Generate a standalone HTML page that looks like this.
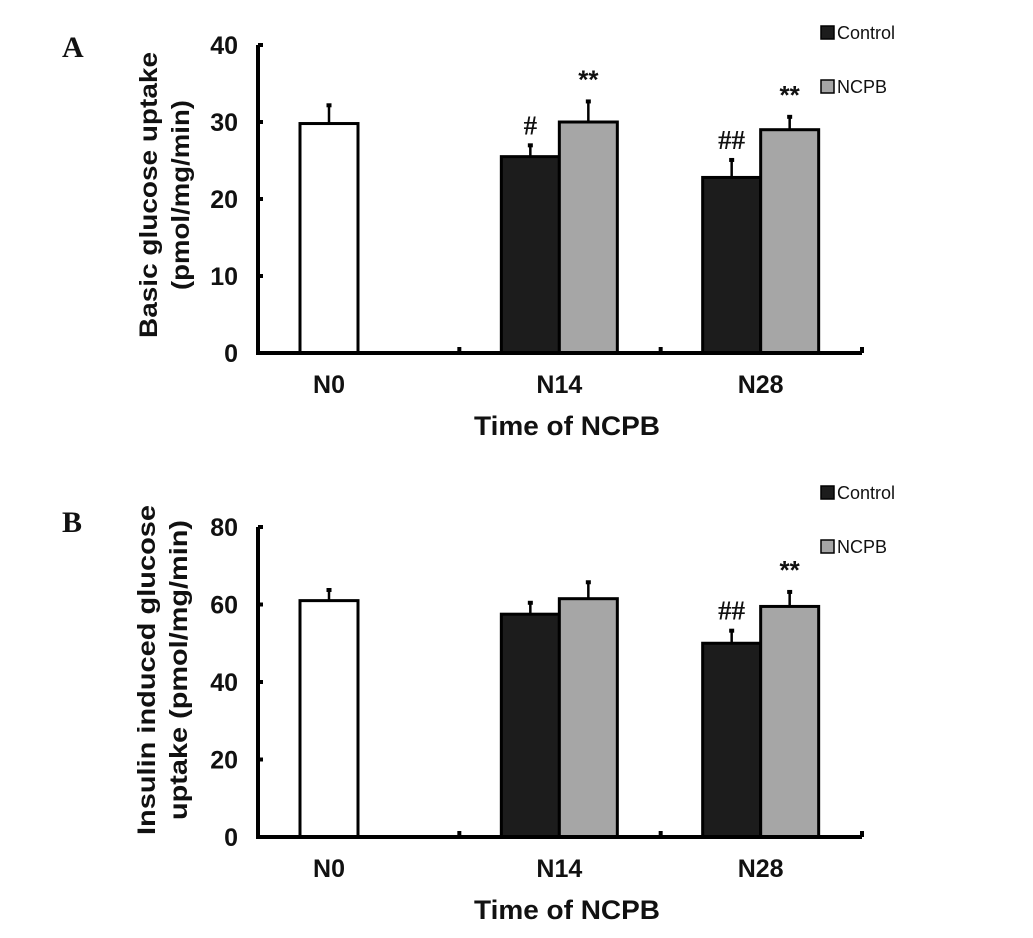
<!DOCTYPE html>
<html><head><meta charset="utf-8"><style>
body{margin:0;background:#fff;}
svg text{font-family:"Liberation Sans",sans-serif;font-weight:bold;fill:#111;}
</style></head><body>
<svg id="chart" width="1033" height="933" viewBox="0 0 1033 933" xmlns="http://www.w3.org/2000/svg"></svg>
<script>
const categories = ["N0","N14","N28"];
const aControl = [29.8, 25.5, 22.8];
const aControlErr = [2.5, 1.6, 2.4];
const aNcpb = [null, 30.0, 29.0];
const aNcpbErr = [null, 2.8, 1.8];
const aMarks = [["",""],["#","**"],["##","**"]];
const aTicks = [0,10,20,30,40];
const bControl = [61, 57.5, 50];
const bControlErr = [3, 3.2, 3.5];
const bNcpb = [null, 61.5, 59.5];
const bNcpbErr = [null, 4.5, 4];
const bMarks = [["",""],["",""],["##","**"]];
const bTicks = [0,20,40,60,80];

const svg = document.getElementById('chart');
const NS = 'http://www.w3.org/2000/svg';
function mk(tag, attrs, text){
  const e = document.createElementNS(NS, tag);
  for (const k in attrs) e.setAttribute(k, attrs[k]);
  if (text !== undefined) e.textContent = text;
  svg.appendChild(e);
  return e;
}
function panel(p){
  const x0=258, x1=862, catW=(x1-x0)/3;
  const ymax=p.ticks[p.ticks.length-1];
  const y = v => p.y0 - (v/ymax)*(p.y0-p.yTop);
  let e;
  e = mk('text',{x:62,y:p.letterY,'font-size':30,style:'font-family:"Liberation Serif",serif;font-weight:bold'},p.letter);
  
  
  const cy=p.titleCy;
  p.ytitle.forEach((t,i)=>{
    e = mk('text',{x:p.ytX[i],y:cy,'font-size':25,'text-anchor':'middle',textLength:p.ytLen[i],lengthAdjust:'spacingAndGlyphs',transform:`rotate(-90 ${p.ytX[i]} ${cy})`},t);
    
    
  });
  p.ticks.forEach(t=>{
    e = mk('text',{x:238,y:y(t)+9,'font-size':25,'text-anchor':'end'},String(t));
    
    
    e = mk('line',{x1:x0,x2:x0+5,y1:y(t),y2:y(t),stroke:'#000','stroke-width':4});
    
    
  });
  categories.forEach((c,i)=>{
    const base=x0+catW*i;
    const bars=[[p.control[i],p.cErr[i],i===0?'#fff':'#1c1c1c',base+42]];
    if(p.ncpb[i]!==null) bars.push([p.ncpb[i],p.nErr[i],'#a6a6a6',base+42+58]);
    bars.forEach((b,j)=>{
      const bx=b[3], w=58, top=y(b[0]);
      e = mk('line',{x1:bx+w/2,x2:bx+w/2,y1:top,y2:y(b[0]+b[1]),stroke:'#000','stroke-width':2.5});
      
      
      e = mk('rect',{x:bx+w/2-2.5,y:y(b[0]+b[1])-1,width:5,height:4,fill:'#000'});
      
      
      e = mk('rect',{x:bx,y:top,width:w,height:p.y0-top,fill:b[2],stroke:'#000','stroke-width':3});
      
      
      const m=p.marks[i][j];
      if(m){
        const star=m[0]==='*';
        e = mk('text',{x:bx+w/2,y:y(b[0]+b[1])-(star?12:10),'font-size':star?26:27,'text-anchor':'middle',style:star?'':'font-family:"Liberation Serif",serif;font-weight:bold'},m);
        
        
      }
    });
    e = mk('text',{x:base+(i===0?71:100),y:p.y0+40,'font-size':25,'text-anchor':'middle'},c);
    
    
    e = mk('line',{x1:base+catW,x2:base+catW,y1:p.y0,y2:p.y0-6,stroke:'#000','stroke-width':4});
    
    
  });
  e = mk('path',{d:`M${x0} ${p.yTop} V${p.y0} H${x1}`,fill:'none',stroke:'#000','stroke-width':4});
  
  
  e = mk('text',{x:567,y:p.y0+82,'font-size':27,'text-anchor':'middle',textLength:186,lengthAdjust:'spacingAndGlyphs'},'Time of NCPB');
  
  
  [['Control','#1c1c1c',p.legY],['NCPB','#a6a6a6',p.legY+54]].forEach(l=>{
    e = mk('rect',{x:821,y:l[2]-13,width:13,height:13,fill:l[1],stroke:'#000','stroke-width':1.5});
    
    
    e = mk('text',{x:837,y:l[2],'font-size':18,style:'font-weight:normal'},l[0]);
    
    
  });
}
panel({letter:'A',letterY:57,y0:353,yTop:45,ticks:aTicks,control:aControl,cErr:aControlErr,ncpb:aNcpb,nErr:aNcpbErr,marks:aMarks,
  ytitle:['Basic glucose uptake','(pmol/mg/min)'],ytX:[157,189],ytLen:[286,190],titleCy:195,legY:39});
panel({letter:'B',letterY:532,y0:837,yTop:527,ticks:bTicks,control:bControl,cErr:bControlErr,ncpb:bNcpb,nErr:bNcpbErr,marks:bMarks,
  ytitle:['Insulin induced glucose','uptake (pmol/mg/min)'],ytX:[155,187],ytLen:[330,300],titleCy:670,legY:499});
</script>
</body></html>
